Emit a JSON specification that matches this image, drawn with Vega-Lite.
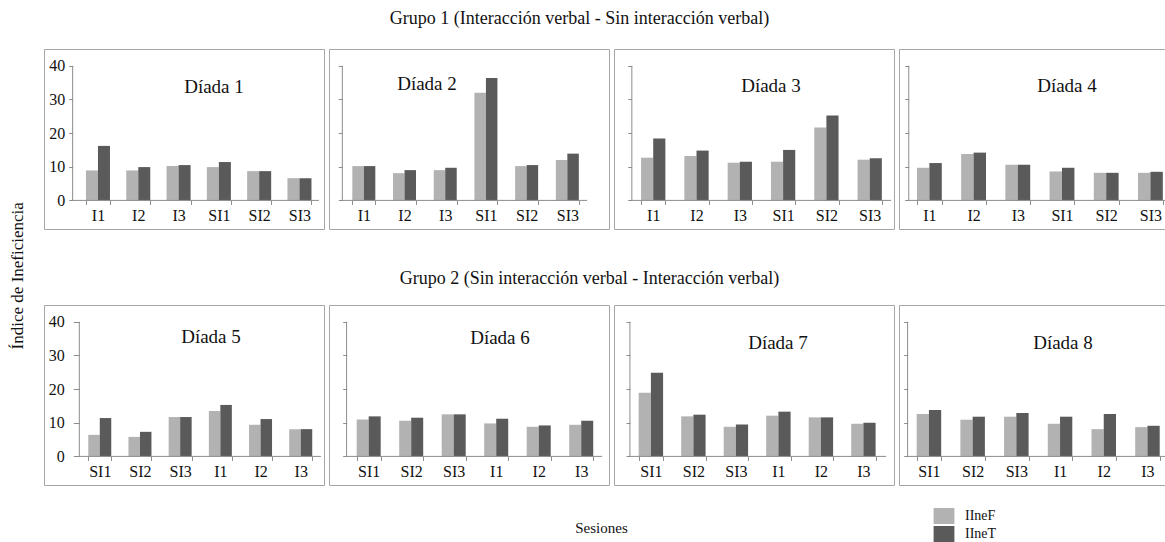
{
  "$schema": "https://vega.github.io/schema/vega-lite/v6.json",
  "background": "white",
  "padding": {"left": 8, "top": 9, "right": 0, "bottom": 0},
  "data": {"values": [
    {"d":1,"s":"I1","m":"IIneF","v":8.9},{"d":1,"s":"I1","m":"IIneT","v":16.2},
    {"d":1,"s":"I2","m":"IIneF","v":8.9},{"d":1,"s":"I2","m":"IIneT","v":9.9},
    {"d":1,"s":"I3","m":"IIneF","v":10.2},{"d":1,"s":"I3","m":"IIneT","v":10.5},
    {"d":1,"s":"SI1","m":"IIneF","v":9.9},{"d":1,"s":"SI1","m":"IIneT","v":11.4},
    {"d":1,"s":"SI2","m":"IIneF","v":8.7},{"d":1,"s":"SI2","m":"IIneT","v":8.7},
    {"d":1,"s":"SI3","m":"IIneF","v":6.6},{"d":1,"s":"SI3","m":"IIneT","v":6.6},
    {"d":2,"s":"I1","m":"IIneF","v":10.2},{"d":2,"s":"I1","m":"IIneT","v":10.2},
    {"d":2,"s":"I2","m":"IIneF","v":8.1},{"d":2,"s":"I2","m":"IIneT","v":9.0},
    {"d":2,"s":"I3","m":"IIneF","v":9.0},{"d":2,"s":"I3","m":"IIneT","v":9.7},
    {"d":2,"s":"SI1","m":"IIneF","v":32.0},{"d":2,"s":"SI1","m":"IIneT","v":36.4},
    {"d":2,"s":"SI2","m":"IIneF","v":10.2},{"d":2,"s":"SI2","m":"IIneT","v":10.5},
    {"d":2,"s":"SI3","m":"IIneF","v":12.0},{"d":2,"s":"SI3","m":"IIneT","v":13.9},
    {"d":3,"s":"I1","m":"IIneF","v":12.7},{"d":3,"s":"I1","m":"IIneT","v":18.4},
    {"d":3,"s":"I2","m":"IIneF","v":13.2},{"d":3,"s":"I2","m":"IIneT","v":14.8},
    {"d":3,"s":"I3","m":"IIneF","v":11.2},{"d":3,"s":"I3","m":"IIneT","v":11.5},
    {"d":3,"s":"SI1","m":"IIneF","v":11.5},{"d":3,"s":"SI1","m":"IIneT","v":15.0},
    {"d":3,"s":"SI2","m":"IIneF","v":21.7},{"d":3,"s":"SI2","m":"IIneT","v":25.2},
    {"d":3,"s":"SI3","m":"IIneF","v":12.1},{"d":3,"s":"SI3","m":"IIneT","v":12.5},
    {"d":4,"s":"I1","m":"IIneF","v":9.7},{"d":4,"s":"I1","m":"IIneT","v":11.1},
    {"d":4,"s":"I2","m":"IIneF","v":13.8},{"d":4,"s":"I2","m":"IIneT","v":14.2},
    {"d":4,"s":"I3","m":"IIneF","v":10.6},{"d":4,"s":"I3","m":"IIneT","v":10.6},
    {"d":4,"s":"SI1","m":"IIneF","v":8.6},{"d":4,"s":"SI1","m":"IIneT","v":9.7},
    {"d":4,"s":"SI2","m":"IIneF","v":8.2},{"d":4,"s":"SI2","m":"IIneT","v":8.2},
    {"d":4,"s":"SI3","m":"IIneF","v":8.2},{"d":4,"s":"SI3","m":"IIneT","v":8.5},
    {"d":5,"s":"SI1","m":"IIneF","v":6.4},{"d":5,"s":"SI1","m":"IIneT","v":11.4},
    {"d":5,"s":"SI2","m":"IIneF","v":5.8},{"d":5,"s":"SI2","m":"IIneT","v":7.3},
    {"d":5,"s":"SI3","m":"IIneF","v":11.7},{"d":5,"s":"SI3","m":"IIneT","v":11.7},
    {"d":5,"s":"I1","m":"IIneF","v":13.5},{"d":5,"s":"I1","m":"IIneT","v":15.3},
    {"d":5,"s":"I2","m":"IIneF","v":9.4},{"d":5,"s":"I2","m":"IIneT","v":11.1},
    {"d":5,"s":"I3","m":"IIneF","v":8.1},{"d":5,"s":"I3","m":"IIneT","v":8.1},
    {"d":6,"s":"SI1","m":"IIneF","v":11.0},{"d":6,"s":"SI1","m":"IIneT","v":11.9},
    {"d":6,"s":"SI2","m":"IIneF","v":10.6},{"d":6,"s":"SI2","m":"IIneT","v":11.5},
    {"d":6,"s":"SI3","m":"IIneF","v":12.5},{"d":6,"s":"SI3","m":"IIneT","v":12.5},
    {"d":6,"s":"I1","m":"IIneF","v":9.8},{"d":6,"s":"I1","m":"IIneT","v":11.2},
    {"d":6,"s":"I2","m":"IIneF","v":8.8},{"d":6,"s":"I2","m":"IIneT","v":9.2},
    {"d":6,"s":"I3","m":"IIneF","v":9.4},{"d":6,"s":"I3","m":"IIneT","v":10.6},
    {"d":7,"s":"SI1","m":"IIneF","v":18.9},{"d":7,"s":"SI1","m":"IIneT","v":24.9},
    {"d":7,"s":"SI2","m":"IIneF","v":11.9},{"d":7,"s":"SI2","m":"IIneT","v":12.4},
    {"d":7,"s":"SI3","m":"IIneF","v":8.8},{"d":7,"s":"SI3","m":"IIneT","v":9.5},
    {"d":7,"s":"I1","m":"IIneF","v":12.1},{"d":7,"s":"I1","m":"IIneT","v":13.3},
    {"d":7,"s":"I2","m":"IIneF","v":11.6},{"d":7,"s":"I2","m":"IIneT","v":11.6},
    {"d":7,"s":"I3","m":"IIneF","v":9.7},{"d":7,"s":"I3","m":"IIneT","v":10.0},
    {"d":8,"s":"SI1","m":"IIneF","v":12.6},{"d":8,"s":"SI1","m":"IIneT","v":13.8},
    {"d":8,"s":"SI2","m":"IIneF","v":10.9},{"d":8,"s":"SI2","m":"IIneT","v":11.8},
    {"d":8,"s":"SI3","m":"IIneF","v":11.8},{"d":8,"s":"SI3","m":"IIneT","v":12.9},
    {"d":8,"s":"I1","m":"IIneF","v":9.7},{"d":8,"s":"I1","m":"IIneT","v":11.8},
    {"d":8,"s":"I2","m":"IIneF","v":8.1},{"d":8,"s":"I2","m":"IIneT","v":12.6},
    {"d":8,"s":"I3","m":"IIneF","v":8.7},{"d":8,"s":"I3","m":"IIneT","v":9.1}
  ]},
  "title": {"text": "Índice de  Ineficiencia", "orient": "left", "anchor": "middle", "fontSize": 17, "offset": 17},
  "resolve": {"scale": {"xOffset": "independent"}},
  "vconcat": [
    {
      "title": {"text": "Sesiones", "orient": "bottom", "anchor": "middle", "fontSize": 15, "offset": 35, "dx": -10},
      "spacing": 39,
      "resolve": {"scale": {"xOffset": "independent"}},
      "vconcat": [
        {
          "title": {"text": "Grupo 1 (Interacción verbal -  Sin interacción verbal)", "anchor": "middle", "fontSize": 18, "offset": 21, "dx": -32},
          "spacing": 3,
          "resolve": {"scale": {"xOffset": "independent"}},
          "hconcat": [
            {
              "width": 280, "height": 180,
              "title": {"text": "Díada 1", "dx": 30, "dy": 56.5, "offset": 0, "baseline": "middle", "fontSize": 19},
              "layer": [
                {"transform": [{"filter": "datum.d == 1"}], "mark": {"type": "bar"},
                 "encoding": {
                   "x": {"field": "s", "type": "nominal", "scale": {"domain": ["I1","I2","I3","SI1","SI2","SI3"], "paddingInner": 0.404, "paddingOuter": 0.676, "align": 0.77}, "axis": {"title": null, "offset": -28.6}},
                   "xOffset": {"field": "m", "type": "nominal", "scale": {"paddingInner": 0, "paddingOuter": 0}},
                   "y": {"field": "v", "type": "quantitative", "scale": {"domain": [-8.5, 45], "nice": false, "zero": false}, "axis": {"title": null, "offset": -28.7, "values": [0,10,20,30,40], "labels": true, "labelPadding": 4}},
                   "y2": {"datum": 0},
                   "color": {"field": "m", "type": "nominal", "scale": {"domain": ["IIneF","IIneT"], "range": ["#b2b2b2","#5a5a5a"]}, "legend": {"title": null}}
                 }},
                {"data": {"values": [{}]}, "mark": {"type": "rule", "color": "#8c8c8c"},
                 "encoding": {"x": {"datum": "I1", "bandPosition": -0.554}, "x2": {"datum": "SI3", "bandPosition": 1.31}, "y": {"datum": 0}}},
                {"data": {"values": [{}]}, "mark": {"type": "rule", "color": "#8c8c8c"},
                 "encoding": {"x": {"datum": "I1", "bandPosition": -0.554}, "y": {"datum": 0}, "y2": {"datum": 40}}}
              ]
            },
            {
              "width": 280, "height": 180,
              "title": {"text": "Díada 2", "dx": -42, "dy": 53.5, "offset": 0, "baseline": "middle", "fontSize": 19},
              "layer": [
                {"transform": [{"filter": "datum.d == 2"}], "mark": {"type": "bar"},
                 "encoding": {
                   "x": {"field": "s", "type": "nominal", "scale": {"domain": ["I1","I2","I3","SI1","SI2","SI3"], "paddingInner": 0.435, "paddingOuter": 0.657, "align": 0.436}, "axis": {"title": null, "offset": -28.6}},
                   "xOffset": {"field": "m", "type": "nominal", "scale": {"paddingInner": 0, "paddingOuter": 0}},
                   "y": {"field": "v", "type": "quantitative", "scale": {"domain": [-8.5, 45], "nice": false, "zero": false}, "axis": {"title": null, "offset": -13.3, "values": [0,10,20,30,40], "labels": false}},
                   "y2": {"datum": 0},
                   "color": {"field": "m", "type": "nominal", "scale": {"domain": ["IIneF","IIneT"], "range": ["#b2b2b2","#5a5a5a"]}, "legend": {"title": null}}
                 }},
                {"data": {"values": [{}]}, "mark": {"type": "rule", "color": "#8c8c8c"},
                 "encoding": {"x": {"datum": "I1", "bandPosition": -0.435}, "x2": {"datum": "SI3", "bandPosition": 1.36}, "y": {"datum": 0}}},
                {"data": {"values": [{}]}, "mark": {"type": "rule", "color": "#8c8c8c"},
                 "encoding": {"x": {"datum": "I1", "bandPosition": -0.435}, "y": {"datum": 0}, "y2": {"datum": 40}}}
              ]
            },
            {
              "width": 280, "height": 180,
              "title": {"text": "Díada 3", "dx": 17, "dy": 56, "offset": 0, "baseline": "middle", "fontSize": 19},
              "layer": [
                {"transform": [{"filter": "datum.d == 3"}], "mark": {"type": "bar"},
                 "encoding": {
                   "x": {"field": "s", "type": "nominal", "scale": {"domain": ["I1","I2","I3","SI1","SI2","SI3"], "paddingInner": 0.439, "paddingOuter": 0.453, "align": 0.69}, "axis": {"title": null, "offset": -28.6}},
                   "xOffset": {"field": "m", "type": "nominal", "scale": {"paddingInner": 0, "paddingOuter": 0}},
                   "y": {"field": "v", "type": "quantitative", "scale": {"domain": [-8.5, 45], "nice": false, "zero": false}, "axis": {"title": null, "offset": -17.7, "values": [0,10,20,30,40], "labels": false}},
                   "y2": {"datum": 0},
                   "color": {"field": "m", "type": "nominal", "scale": {"domain": ["IIneF","IIneT"], "range": ["#b2b2b2","#5a5a5a"]}, "legend": {"title": null}}
                 }},
                {"data": {"values": [{}]}, "mark": {"type": "rule", "color": "#8c8c8c"},
                 "encoding": {"x": {"datum": "I1", "bandPosition": -0.38}, "x2": {"datum": "SI3", "bandPosition": 1.38}, "y": {"datum": 0}}},
                {"data": {"values": [{}]}, "mark": {"type": "rule", "color": "#8c8c8c"},
                 "encoding": {"x": {"datum": "I1", "bandPosition": -0.38}, "y": {"datum": 0}, "y2": {"datum": 40}}}
              ]
            },
            {
              "width": 280, "height": 180,
              "title": {"text": "Díada 4", "dx": 28, "dy": 55.5, "offset": 0, "baseline": "middle", "fontSize": 19},
              "layer": [
                {"transform": [{"filter": "datum.d == 4"}], "mark": {"type": "bar"},
                 "encoding": {
                   "x": {"field": "s", "type": "nominal", "scale": {"domain": ["I1","I2","I3","SI1","SI2","SI3"], "paddingInner": 0.438, "paddingOuter": 0.386, "align": 0.526}, "axis": {"title": null, "offset": -28.6}},
                   "xOffset": {"field": "m", "type": "nominal", "scale": {"paddingInner": 0, "paddingOuter": 0}},
                   "y": {"field": "v", "type": "quantitative", "scale": {"domain": [-8.5, 45], "nice": false, "zero": false}, "axis": {"title": null, "offset": -9.7, "values": [0,10,20,30,40], "labels": false}},
                   "y2": {"datum": 0},
                   "color": {"field": "m", "type": "nominal", "scale": {"domain": ["IIneF","IIneT"], "range": ["#b2b2b2","#5a5a5a"]}, "legend": {"title": null}}
                 }},
                {"data": {"values": [{}]}, "mark": {"type": "rule", "color": "#8c8c8c"},
                 "encoding": {"x": {"datum": "I1", "bandPosition": -0.33}, "x2": {"datum": "SI3", "bandPosition": 1.4}, "y": {"datum": 0}}},
                {"data": {"values": [{}]}, "mark": {"type": "rule", "color": "#8c8c8c"},
                 "encoding": {"x": {"datum": "I1", "bandPosition": -0.33}, "y": {"datum": 0}, "y2": {"datum": 40}}}
              ]
            }
          ]
        },
        {
          "title": {"text": "Grupo 2 (Sin interacción verbal -  Interacción verbal)", "anchor": "middle", "fontSize": 18, "offset": 17, "dx": -22},
          "spacing": 3,
          "resolve": {"scale": {"xOffset": "independent"}},
          "hconcat": [
            {
              "width": 280, "height": 180,
              "title": {"text": "Díada  5", "dx": 27, "dy": 50.5, "offset": 0, "baseline": "middle", "fontSize": 19},
              "layer": [
                {"transform": [{"filter": "datum.d == 5"}], "mark": {"type": "bar"},
                 "encoding": {
                   "x": {"field": "s", "type": "nominal", "scale": {"domain": ["SI1","SI2","SI3","I1","I2","I3"], "paddingInner": 0.428, "paddingOuter": 0.697, "align": 0.79}, "axis": {"title": null, "offset": -28.6}},
                   "xOffset": {"field": "m", "type": "nominal", "scale": {"paddingInner": 0, "paddingOuter": 0}},
                   "y": {"field": "v", "type": "quantitative", "scale": {"domain": [-8.5, 45], "nice": false, "zero": false}, "axis": {"title": null, "offset": -35.3, "values": [0,10,20,30,40], "labels": true, "labelPadding": 9, "tickSize": 6}},
                   "y2": {"datum": 0},
                   "color": {"field": "m", "type": "nominal", "scale": {"domain": ["IIneF","IIneT"], "range": ["#b2b2b2","#5a5a5a"]}, "legend": {"title": null}}
                 }},
                {"data": {"values": [{}]}, "mark": {"type": "rule", "color": "#8c8c8c"},
                 "encoding": {"x": {"datum": "SI1", "bandPosition": -0.39}, "x2": {"datum": "I3", "bandPosition": 1.38}, "y": {"datum": 0}}},
                {"data": {"values": [{}]}, "mark": {"type": "rule", "color": "#8c8c8c"},
                 "encoding": {"x": {"datum": "SI1", "bandPosition": -0.39}, "y": {"datum": 0}, "y2": {"datum": 40}}}
              ]
            },
            {
              "width": 280, "height": 180,
              "title": {"text": "Díada 6", "dx": 31, "dy": 52, "offset": 0, "baseline": "middle", "fontSize": 19},
              "layer": [
                {"transform": [{"filter": "datum.d == 6"}], "mark": {"type": "bar"},
                 "encoding": {
                   "x": {"field": "s", "type": "nominal", "scale": {"domain": ["SI1","SI2","SI3","I1","I2","I3"], "paddingInner": 0.435, "paddingOuter": 0.511, "align": 0.637}, "axis": {"title": null, "offset": -28.6}},
                   "xOffset": {"field": "m", "type": "nominal", "scale": {"paddingInner": 0, "paddingOuter": 0}},
                   "y": {"field": "v", "type": "quantitative", "scale": {"domain": [-8.5, 45], "nice": false, "zero": false}, "axis": {"title": null, "offset": -17.7, "values": [0,10,20,30,40], "labels": false}},
                   "y2": {"datum": 0},
                   "color": {"field": "m", "type": "nominal", "scale": {"domain": ["IIneF","IIneT"], "range": ["#b2b2b2","#5a5a5a"]}, "legend": {"title": null}}
                 }},
                {"data": {"values": [{}]}, "mark": {"type": "rule", "color": "#8c8c8c"},
                 "encoding": {"x": {"datum": "SI1", "bandPosition": -0.42}, "x2": {"datum": "I3", "bandPosition": 1.37}, "y": {"datum": 0}}},
                {"data": {"values": [{}]}, "mark": {"type": "rule", "color": "#8c8c8c"},
                 "encoding": {"x": {"datum": "SI1", "bandPosition": -0.42}, "y": {"datum": 0}, "y2": {"datum": 40}}}
              ]
            },
            {
              "width": 280, "height": 180,
              "title": {"text": "Díada 7", "dx": 24, "dy": 56.5, "offset": 0, "baseline": "middle", "fontSize": 19},
              "layer": [
                {"transform": [{"filter": "datum.d == 7"}], "mark": {"type": "bar"},
                 "encoding": {
                   "x": {"field": "s", "type": "nominal", "scale": {"domain": ["SI1","SI2","SI3","I1","I2","I3"], "paddingInner": 0.426, "paddingOuter": 0.507, "align": 0.573}, "axis": {"title": null, "offset": -28.6}},
                   "xOffset": {"field": "m", "type": "nominal", "scale": {"paddingInner": 0, "paddingOuter": 0}},
                   "y": {"field": "v", "type": "quantitative", "scale": {"domain": [-8.5, 45], "nice": false, "zero": false}, "axis": {"title": null, "offset": -16, "values": [0,10,20,30,40], "labels": false}},
                   "y2": {"datum": 0},
                   "color": {"field": "m", "type": "nominal", "scale": {"domain": ["IIneF","IIneT"], "range": ["#b2b2b2","#5a5a5a"]}, "legend": {"title": null}}
                 }},
                {"data": {"values": [{}]}, "mark": {"type": "rule", "color": "#8c8c8c"},
                 "encoding": {"x": {"datum": "SI1", "bandPosition": -0.36}, "x2": {"datum": "I3", "bandPosition": 1.43}, "y": {"datum": 0}}},
                {"data": {"values": [{}]}, "mark": {"type": "rule", "color": "#8c8c8c"},
                 "encoding": {"x": {"datum": "SI1", "bandPosition": -0.36}, "y": {"datum": 0}, "y2": {"datum": 40}}}
              ]
            },
            {
              "width": 280, "height": 180,
              "title": {"text": "Díada 8", "dx": 24, "dy": 56.5, "offset": 0, "baseline": "middle", "fontSize": 19},
              "layer": [
                {"transform": [{"filter": "datum.d == 8"}], "mark": {"type": "bar"},
                 "encoding": {
                   "x": {"field": "s", "type": "nominal", "scale": {"domain": ["SI1","SI2","SI3","I1","I2","I3"], "paddingInner": 0.439, "paddingOuter": 0.423, "align": 0.478}, "axis": {"title": null, "offset": -28.6}},
                   "xOffset": {"field": "m", "type": "nominal", "scale": {"paddingInner": 0, "paddingOuter": 0}},
                   "y": {"field": "v", "type": "quantitative", "scale": {"domain": [-8.5, 45], "nice": false, "zero": false}, "axis": {"title": null, "offset": -8.7, "values": [0,10,20,30,40], "labels": false}},
                   "y2": {"datum": 0},
                   "color": {"field": "m", "type": "nominal", "scale": {"domain": ["IIneF","IIneT"], "range": ["#b2b2b2","#5a5a5a"]}, "legend": {"title": null}}
                 }},
                {"data": {"values": [{}]}, "mark": {"type": "rule", "color": "#8c8c8c"},
                 "encoding": {"x": {"datum": "SI1", "bandPosition": -0.37}, "x2": {"datum": "I3", "bandPosition": 1.4}, "y": {"datum": 0}}},
                {"data": {"values": [{}]}, "mark": {"type": "rule", "color": "#8c8c8c"},
                 "encoding": {"x": {"datum": "SI1", "bandPosition": -0.37}, "y": {"datum": 0}, "y2": {"datum": 40}}}
              ]
            }
          ]
        }
      ]
    }
  ],
  "config": {
    "font": "Liberation Serif",
    "view": {"stroke": "#a6a6a6", "strokeWidth": 1},
    "bar": {"stroke": null},
    "axis": {"domain": false, "grid": false, "tickColor": "#8c8c8c", "tickSize": 4, "labelFont": "Liberation Serif", "labelFontSize": 16, "labelColor": "#111111", "labelPadding": 4},
    "axisX": {"tickBand": "extent", "labelAngle": 0, "labelPadding": 3},
    "title": {"font": "Liberation Serif", "fontWeight": "normal", "color": "#111111"},
    "legend": {"orient": "none", "legendX": 892, "legendY": 459, "symbolType": "M-1.3,-1H1.3V1H-1.3Z", "symbolSize": 256, "symbolStrokeWidth": 0, "labelFont": "Liberation Serif", "labelFontSize": 14, "labelColor": "#111111", "labelOffset": 13, "rowPadding": 2}
  }
}
